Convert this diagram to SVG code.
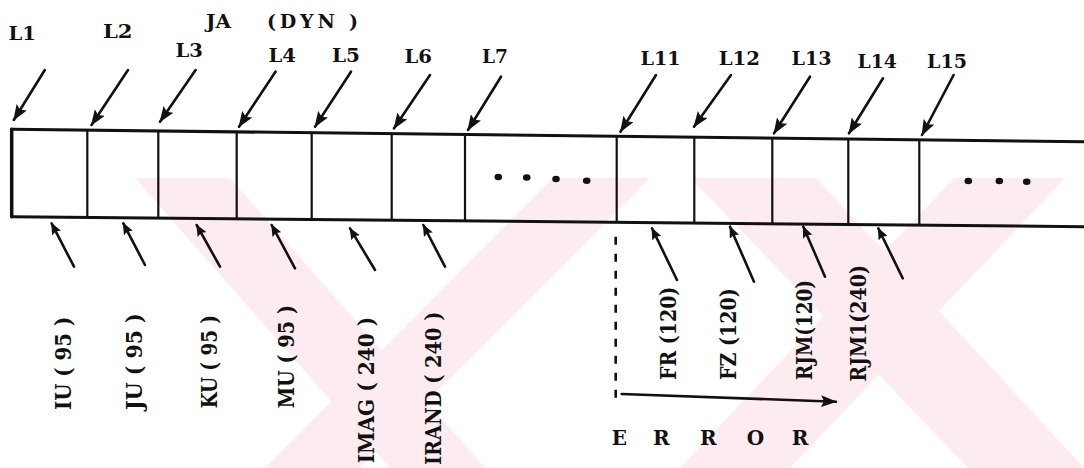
<svg xmlns="http://www.w3.org/2000/svg" width="1084" height="468" viewBox="0 0 1084 468">
<style>
.lbl{font-family:"DejaVu Serif","Liberation Serif",serif;font-weight:bold;font-size:19px;fill:#111}
.rot{font-family:"DejaVu Serif","Liberation Serif",serif;font-weight:bold;font-size:22px;fill:#111}
.err{font-family:"DejaVu Serif","Liberation Serif",serif;font-weight:bold;font-size:20px;fill:#111}
.edge{stroke:#111;stroke-width:3;fill:none;stroke-linecap:round}
.div{stroke:#111;stroke-width:2.2;fill:none}
.arr{stroke:#111;stroke-width:2.6;fill:none;stroke-linecap:round}
.wm{fill:#fcecf0}
.dot{fill:#111}
</style>
<defs>
<marker id="ah" viewBox="0 0 16 12" refX="15" refY="6" markerWidth="16" markerHeight="12" markerUnits="userSpaceOnUse" orient="auto"><path d="M0,0 L16,6 L0,12 L3,6 z" fill="#111"/></marker>
<marker id="ahs" viewBox="0 0 12 10" refX="11" refY="5" markerWidth="12" markerHeight="10" markerUnits="userSpaceOnUse" orient="auto"><path d="M0,0 L12,5 L0,10 L2,5 z" fill="#111"/></marker>
</defs>
<rect width="1084" height="468" fill="#ffffff"/>
<g id="watermark">
<polygon class="wm" points="135,178 230,178 485,468 390,468"/>
<polygon class="wm" points="553,178 650,178 360,468 265,468"/>
<polygon class="wm" points="691,178 816,178 1084,468 968,468"/>
<polygon class="wm" points="954,178 1065,178 790,468 680,468"/>
</g>
<g id="array">
<line class="edge" x1="11.7" y1="129.3" x2="1084" y2="141.7"/>
<line class="edge" x1="11.7" y1="216.7" x2="1084" y2="226.7"/>
<line class="edge" x1="11.7" y1="129.3" x2="11.7" y2="216.7" style="stroke-width:3.5"/>
<line class="div" x1="87.3" y1="130.2" x2="87.3" y2="217.4"/>
<line class="div" x1="158.3" y1="131" x2="158.3" y2="218.1"/>
<line class="div" x1="236.7" y1="131.9" x2="236.7" y2="218.8"/>
<line class="div" x1="311.7" y1="132.8" x2="311.7" y2="219.5"/>
<line class="div" x1="391.7" y1="133.7" x2="391.7" y2="220.2"/>
<line class="div" x1="465" y1="134.5" x2="465" y2="220.9"/>
<line class="div" x1="616.7" y1="136.3" x2="616.7" y2="222.3"/>
<line class="div" x1="694.3" y1="137.2" x2="694.3" y2="223.1"/>
<line class="div" x1="772.3" y1="138.1" x2="772.3" y2="223.8"/>
<line class="div" x1="848.3" y1="139" x2="848.3" y2="224.5"/>
<line class="div" x1="919.3" y1="139.8" x2="919.3" y2="225.2"/>
<ellipse class="dot" cx="498.3" cy="177" rx="3.8" ry="3.3"/>
<ellipse class="dot" cx="526.7" cy="177.5" rx="3.8" ry="3.3"/>
<ellipse class="dot" cx="556" cy="179" rx="3.8" ry="3.3"/>
<ellipse class="dot" cx="586.7" cy="180.7" rx="3.8" ry="3.3"/>
<ellipse class="dot" cx="968.3" cy="181" rx="3.8" ry="3.3"/>
<ellipse class="dot" cx="999.3" cy="181" rx="3.8" ry="3.3"/>
<ellipse class="dot" cx="1026.7" cy="181.7" rx="3.8" ry="3.3"/>
</g>
<g id="title"><text class="lbl" x="206" y="28.3" textLength="25" lengthAdjust="spacingAndGlyphs">JA</text><text class="lbl" x="267" y="28.3" textLength="91" lengthAdjust="spacing">(DYN )</text></g>
<g id="L1"><text class="lbl" x="8.6" y="40" textLength="27.4" lengthAdjust="spacingAndGlyphs">L1</text></g>
<g id="L2"><text class="lbl" x="103" y="38.3" textLength="29.6" lengthAdjust="spacingAndGlyphs">L2</text></g>
<g id="L3"><text class="lbl" x="175.6" y="56.7" textLength="27.4" lengthAdjust="spacingAndGlyphs">L3</text></g>
<g id="L4"><text class="lbl" x="268.6" y="61.7" textLength="27.4" lengthAdjust="spacingAndGlyphs">L4</text></g>
<g id="L5"><text class="lbl" x="332" y="61.7" textLength="28" lengthAdjust="spacingAndGlyphs">L5</text></g>
<g id="L6"><text class="lbl" x="404.6" y="63" textLength="27.4" lengthAdjust="spacingAndGlyphs">L6</text></g>
<g id="L7"><text class="lbl" x="482" y="63" textLength="26" lengthAdjust="spacingAndGlyphs">L7</text></g>
<g id="L11"><text class="lbl" x="640.6" y="65" textLength="40" lengthAdjust="spacingAndGlyphs">L11</text></g>
<g id="L12"><text class="lbl" x="718.7" y="65" textLength="41.3" lengthAdjust="spacingAndGlyphs">L12</text></g>
<g id="L13"><text class="lbl" x="791.6" y="65" textLength="40" lengthAdjust="spacingAndGlyphs">L13</text></g>
<g id="L14"><text class="lbl" x="857.5" y="68" textLength="39.5" lengthAdjust="spacingAndGlyphs">L14</text></g>
<g id="L15"><text class="lbl" x="927" y="68" textLength="40" lengthAdjust="spacingAndGlyphs">L15</text></g>
<g id="IU"><text class="rot" transform="translate(71.3,410) rotate(-90)" textLength="93.3" lengthAdjust="spacingAndGlyphs">IU ( 95 )</text></g>
<g id="JU"><text class="rot" transform="translate(142.3,410) rotate(-90)" textLength="96.7" lengthAdjust="spacingAndGlyphs">JU ( 95 )</text></g>
<g id="KU"><text class="rot" transform="translate(217.3,408.3) rotate(-90)" textLength="93.3" lengthAdjust="spacingAndGlyphs">KU ( 95 )</text></g>
<g id="MU"><text class="rot" transform="translate(294,408.3) rotate(-90)" textLength="103.3" lengthAdjust="spacingAndGlyphs">MU ( 95 )</text></g>
<g id="IMAG"><text class="rot" transform="translate(374,463.3) rotate(-90)" textLength="146.6" lengthAdjust="spacingAndGlyphs">IMAG ( 240 )</text></g>
<g id="IRAND"><text class="rot" transform="translate(440.6,465) rotate(-90)" textLength="153.3" lengthAdjust="spacingAndGlyphs">IRAND ( 240 )</text></g>
<g id="FR"><text class="rot" transform="translate(675.6,380) rotate(-90)" textLength="93.3" lengthAdjust="spacingAndGlyphs">FR (120)</text></g>
<g id="FZ"><text class="rot" transform="translate(735.6,380) rotate(-90)" textLength="91.7" lengthAdjust="spacingAndGlyphs">FZ (120)</text></g>
<g id="RJM"><text class="rot" transform="translate(812.3,380) rotate(-90)" textLength="100" lengthAdjust="spacingAndGlyphs">RJM(120)</text></g>
<g id="RJM1"><text class="rot" transform="translate(865.6,381.7) rotate(-90)" textLength="116.7" lengthAdjust="spacingAndGlyphs">RJM1(240)</text></g>
<g id="ERROR"><text class="err" x="611.7 653 700 746.7 791.7" y="445">ERROR</text></g>
<g id="connectors">
<line class="arr" x1="44.8" y1="70" x2="13.8" y2="120" marker-end="url(#ah)"/>
<line class="arr" x1="128" y1="70" x2="91.5" y2="125" marker-end="url(#ah)"/>
<line class="arr" x1="195.6" y1="70" x2="160" y2="121.7" marker-end="url(#ah)"/>
<line class="arr" x1="275.5" y1="71.7" x2="239" y2="126.7" marker-end="url(#ah)"/>
<line class="arr" x1="351" y1="71.7" x2="315" y2="126.7" marker-end="url(#ah)"/>
<line class="arr" x1="430" y1="75" x2="394" y2="128.3" marker-end="url(#ah)"/>
<line class="arr" x1="501" y1="76.7" x2="468" y2="130" marker-end="url(#ah)"/>
<line class="arr" x1="656" y1="75" x2="620.5" y2="131.7" marker-end="url(#ah)"/>
<line class="arr" x1="731" y1="75" x2="694" y2="126.7" marker-end="url(#ah)"/>
<line class="arr" x1="810" y1="76.7" x2="774" y2="133.3" marker-end="url(#ah)"/>
<line class="arr" x1="883" y1="78.3" x2="849" y2="133.3" marker-end="url(#ah)"/>
<line class="arr" x1="953.6" y1="75" x2="922" y2="135" marker-end="url(#ah)"/>
<line class="arr" x1="74" y1="266.7" x2="51.6" y2="223.3" marker-end="url(#ahs)"/>
<line class="arr" x1="145" y1="265" x2="123.3" y2="223.3" marker-end="url(#ahs)"/>
<line class="arr" x1="220" y1="266.7" x2="196.7" y2="225" marker-end="url(#ahs)"/>
<line class="arr" x1="295" y1="268.3" x2="271.7" y2="225" marker-end="url(#ahs)"/>
<line class="arr" x1="375" y1="270" x2="350" y2="228.3" marker-end="url(#ahs)"/>
<line class="arr" x1="445" y1="266.7" x2="423.3" y2="225" marker-end="url(#ahs)"/>
<line class="arr" x1="677" y1="280" x2="652" y2="228.3" marker-end="url(#ahs)"/>
<line class="arr" x1="754" y1="281.7" x2="730" y2="226.7" marker-end="url(#ahs)"/>
<line class="arr" x1="825" y1="276.7" x2="803.3" y2="226.7" marker-end="url(#ahs)"/>
<line class="arr" x1="902.7" y1="278.3" x2="878.3" y2="228.3" marker-end="url(#ahs)"/>
<line class="arr" x1="615.7" y1="236.7" x2="615.7" y2="400" stroke-dasharray="8 9" style="stroke-linecap:butt"/>
<line class="arr" x1="621.7" y1="394" x2="836" y2="401.7" marker-end="url(#ah)"/>
</g>
</svg>
